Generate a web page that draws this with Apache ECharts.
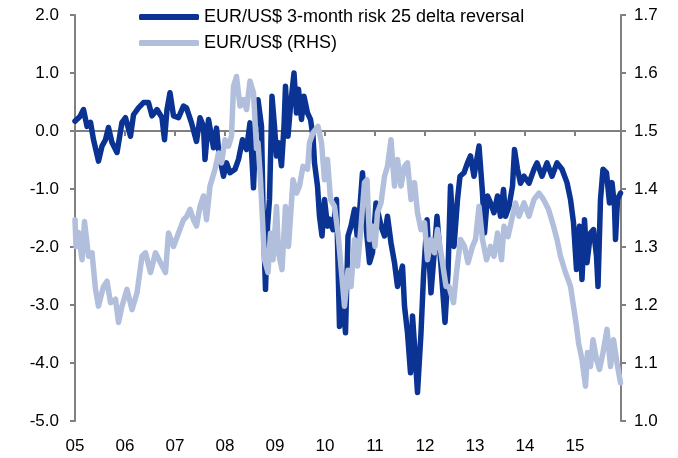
<!DOCTYPE html>
<html>
<head>
<meta charset="utf-8">
<script src="https://cdn.jsdelivr.net/npm/echarts@6/dist/echarts.min.js"></script>
<style>
  html, body { margin: 0; padding: 0; background: #fff; }
  #chart { width: 678px; height: 458px; }
</style>
</head>
<body>
<div id="chart"></div>
<script>
// EUR/US$ 3-month 25 delta risk reversal (LHS)
const rrYears = [
  2005.00, 2005.10, 2005.17, 2005.24, 2005.31, 2005.37, 2005.47, 2005.54, 2005.61, 2005.67,
  2005.74, 2005.84, 2005.94, 2006.01, 2006.11, 2006.17, 2006.27, 2006.37, 2006.47, 2006.54,
  2006.64, 2006.74, 2006.79, 2006.84, 2006.90, 2006.97, 2007.07, 2007.17, 2007.23, 2007.33,
  2007.43, 2007.50, 2007.57, 2007.60, 2007.67, 2007.77, 2007.83, 2007.88, 2007.97, 2008.03,
  2008.10, 2008.20, 2008.27, 2008.35, 2008.43, 2008.50, 2008.57, 2008.63, 2008.66, 2008.73,
  2008.76, 2008.81, 2008.85, 2008.89, 2008.94, 2008.99, 2009.03, 2009.07, 2009.13, 2009.18,
  2009.21, 2009.26, 2009.31, 2009.38, 2009.43, 2009.47, 2009.53, 2009.58, 2009.65, 2009.71,
  2009.76, 2009.79, 2009.85, 2009.89, 2009.94, 2009.99, 2010.05, 2010.09, 2010.16, 2010.23,
  2010.29, 2010.35, 2010.41, 2010.46, 2010.52, 2010.59, 2010.65, 2010.75, 2010.82, 2010.89,
  2010.95, 2011.02, 2011.12, 2011.19, 2011.25, 2011.32, 2011.39, 2011.45, 2011.55, 2011.59,
  2011.65, 2011.71, 2011.75, 2011.80, 2011.85, 2011.92, 2011.97, 2012.04, 2012.12, 2012.19,
  2012.24, 2012.32, 2012.40, 2012.46, 2012.51, 2012.58, 2012.65, 2012.70, 2012.78, 2012.85,
  2012.91, 2012.98, 2013.08, 2013.15, 2013.19, 2013.25, 2013.31, 2013.38, 2013.45, 2013.51,
  2013.57, 2013.61, 2013.68, 2013.75, 2013.79, 2013.85, 2013.91, 2013.98, 2014.08, 2014.18,
  2014.24, 2014.34, 2014.44, 2014.54, 2014.64, 2014.74, 2014.84, 2014.91, 2014.97, 2015.03,
  2015.09, 2015.14, 2015.19, 2015.24, 2015.31, 2015.37, 2015.43, 2015.46, 2015.51, 2015.56,
  2015.63, 2015.69, 2015.74, 2015.79, 2015.81, 2015.85, 2015.91
];
const rrValues = [
  0.17, 0.25, 0.37, 0.08, 0.15, -0.15, -0.52, -0.26, -0.15, 0.06,
  -0.20, -0.37, 0.15, 0.23, -0.09, 0.28, 0.40, 0.49, 0.49, 0.26,
  0.37, 0.23, -0.15, 0.37, 0.66, 0.26, 0.23, 0.43, 0.40, 0.14,
  -0.18, 0.23, 0.08, -0.49, 0.20, -0.29, 0.05, -0.40, -0.78, -0.55,
  -0.72, -0.66, -0.49, -0.15, -0.32, 0.14, -0.98, 0.37, 0.54, 0.08,
  -1.35, -2.73, -1.64, -1.18, 0.60, 0.08, -0.43, -0.20, -0.60, 0.08,
  0.77, -0.09, 0.43, 1.00, 0.31, 0.72, 0.20, 0.60, 0.31, 0.20,
  -0.09, -0.55, -0.95, -1.47, -1.81, -1.18, -1.64, -1.52, -1.70, -1.18,
  -3.37, -2.79, -3.48, -1.81, -1.64, -1.35, -1.87, -0.72, -1.64, -2.27,
  -2.10, -1.24, -1.64, -1.81, -1.47, -1.93, -2.27, -2.68, -2.33, -3.02,
  -3.48, -4.17, -3.19, -3.82, -4.51, -3.48, -2.50, -1.53, -2.79, -2.04,
  -1.47, -2.33, -3.30, -2.44, -0.95, -1.99, -1.18, -0.78, -0.72, -0.55,
  -0.43, -0.78, -0.26, -1.07, -1.76, -1.12, -1.24, -1.41, -1.12, -1.47,
  -1.01, -1.47, -1.30, -0.95, -0.32, -0.66, -0.90, -0.78, -0.90, -0.66,
  -0.55, -0.78, -0.55, -0.78, -0.55, -0.66, -0.89, -1.18, -1.58, -2.39,
  -1.64, -2.56, -1.53, -2.27, -1.76, -1.70, -2.16, -2.68, -1.18, -0.66,
  -0.72, -1.24, -0.89, -1.30, -1.87, -1.18, -1.07
];

// EUR/US$ spot (RHS)
const fxYears = [
  2005.00, 2005.02, 2005.07, 2005.14, 2005.19, 2005.27, 2005.34, 2005.41, 2005.47, 2005.57,
  2005.64, 2005.71, 2005.81, 2005.87, 2005.94, 2006.04, 2006.14, 2006.24, 2006.34, 2006.41,
  2006.51, 2006.61, 2006.71, 2006.81, 2006.84, 2006.87, 2006.97, 2007.07, 2007.17, 2007.23,
  2007.30, 2007.37, 2007.43, 2007.50, 2007.57, 2007.63, 2007.70, 2007.80, 2007.87, 2007.93,
  2008.00, 2008.07, 2008.13, 2008.17, 2008.23, 2008.30, 2008.37, 2008.43, 2008.50, 2008.57,
  2008.63, 2008.66, 2008.71, 2008.79, 2008.86, 2008.91, 2008.96, 2009.03, 2009.07, 2009.14,
  2009.21, 2009.27, 2009.36, 2009.43, 2009.49, 2009.56, 2009.65, 2009.69, 2009.76, 2009.86,
  2009.93, 2009.99, 2010.05, 2010.11, 2010.19, 2010.26, 2010.33, 2010.39, 2010.46, 2010.52,
  2010.59, 2010.65, 2010.72, 2010.79, 2010.84, 2010.89, 2010.95, 2011.00, 2011.05, 2011.12,
  2011.19, 2011.25, 2011.32, 2011.39, 2011.45, 2011.52, 2011.59, 2011.65, 2011.72, 2011.79,
  2011.85, 2011.92, 2011.99, 2012.05, 2012.12, 2012.19, 2012.25, 2012.32, 2012.42, 2012.48,
  2012.57, 2012.63, 2012.71, 2012.79, 2012.86, 2012.95, 2013.01, 2013.08, 2013.15, 2013.23,
  2013.31, 2013.38, 2013.45, 2013.53, 2013.58, 2013.66, 2013.75, 2013.81, 2013.88, 2013.98,
  2014.08, 2014.18, 2014.28, 2014.37, 2014.47, 2014.57, 2014.64, 2014.71, 2014.81, 2014.91,
  2014.97, 2015.03, 2015.07, 2015.14, 2015.21, 2015.25, 2015.31, 2015.36, 2015.43, 2015.49,
  2015.56, 2015.64, 2015.71, 2015.77, 2015.84, 2015.91
];
const fxValues = [
  1.347, 1.301, 1.325, 1.278, 1.344, 1.284, 1.290, 1.227, 1.198, 1.232,
  1.241, 1.204, 1.210, 1.170, 1.198, 1.227, 1.192, 1.221, 1.284, 1.290,
  1.256, 1.290, 1.273, 1.256, 1.290, 1.324, 1.301, 1.324, 1.347, 1.352,
  1.365, 1.347, 1.336, 1.370, 1.388, 1.347, 1.405, 1.434, 1.462, 1.445,
  1.485, 1.474, 1.491, 1.577, 1.594, 1.543, 1.554, 1.537, 1.586, 1.566,
  1.470, 1.480, 1.416, 1.278, 1.256, 1.324, 1.278, 1.370, 1.290, 1.261,
  1.370, 1.301, 1.416, 1.393, 1.405, 1.439, 1.434, 1.480, 1.497, 1.508,
  1.480, 1.416, 1.451, 1.382, 1.370, 1.324, 1.256, 1.198, 1.260, 1.232,
  1.313, 1.267, 1.336, 1.411, 1.416, 1.313, 1.336, 1.301, 1.359, 1.376,
  1.422, 1.439, 1.485, 1.405, 1.451, 1.405, 1.439, 1.445, 1.382, 1.411,
  1.359, 1.330, 1.342, 1.278, 1.313, 1.290, 1.330, 1.290, 1.232, 1.232,
  1.204, 1.256, 1.313, 1.301, 1.273, 1.301, 1.313, 1.370, 1.313, 1.278,
  1.301, 1.284, 1.324, 1.278, 1.336, 1.318, 1.353, 1.376, 1.353, 1.376,
  1.353, 1.382, 1.393, 1.382, 1.365, 1.336, 1.313, 1.284, 1.256, 1.232,
  1.198, 1.163, 1.135, 1.106, 1.060, 1.118, 1.094, 1.140, 1.106, 1.089,
  1.118, 1.158, 1.094, 1.140, 1.100, 1.066
];

const yearTicks = ['05', '06', '07', '08', '09', '10', '11', '12', '13', '14', '15'];

const rrData = rrYears.map((y, i) => [y, rrValues[i]]);
const fxData = fxYears.map((y, i) => [y, fxValues[i]]);

const font = "'Liberation Sans', Arial, sans-serif";
const axisGray = '#808080';

const chart = echarts.init(document.getElementById('chart'));

const yearLabel = v => {
  const r = Math.round(v);
  if (Math.abs(v - r) > 1e-6) return '';
  return yearTicks[r - 2005] || '';
};

chart.setOption({
  animation: false,
  backgroundColor: '#fff',
  grid: { left: 75, right: 57, top: 15, bottom: 37 },
  legend: {
    orient: 'vertical',
    left: 139,
    top: 8,
    padding: 0,
    itemWidth: 60,
    itemHeight: 6,
    itemGap: 8,
    icon: 'roundRect',
    textStyle: { fontFamily: font, fontSize: 18, color: '#000' },
    data: ['EUR/US$ 3-month risk 25 delta reversal', 'EUR/US$ (RHS)']
  },
  xAxis: [
    {
      type: 'value',
      min: 2005,
      max: 2015.92,
      interval: 1,
      axisLine: { show: false, onZero: false },
      axisTick: { show: false },
      splitLine: { show: false },
      axisLabel: {
        formatter: yearLabel,
        fontFamily: font, fontSize: 17, color: '#000', margin: 17
      }
    },
    {
      type: 'value',
      min: 2005,
      max: 2015.92,
      interval: 1,
      position: 'bottom',
      axisLine: { show: true, onZero: true, onZeroAxisIndex: 0, lineStyle: { color: axisGray, width: 2 } },
      axisTick: { show: true, length: 5, lineStyle: { color: axisGray, width: 2 } },
      axisLabel: { show: false },
      splitLine: { show: false }
    }
  ],
  yAxis: [
    {
      type: 'value',
      min: -5,
      max: 2,
      interval: 1,
      axisLine: { show: true, lineStyle: { color: axisGray, width: 2 } },
      axisTick: { show: true, length: 5, lineStyle: { color: axisGray, width: 2 } },
      splitLine: { show: false },
      axisLabel: {
        formatter: v => v.toFixed(1),
        fontFamily: font, fontSize: 17, color: '#000', margin: 16
      }
    },
    {
      type: 'value',
      min: 1.0,
      max: 1.7,
      interval: 0.1,
      position: 'right',
      axisLine: { show: true, lineStyle: { color: axisGray, width: 2 } },
      axisTick: { show: true, length: 5, lineStyle: { color: axisGray, width: 2 } },
      splitLine: { show: false },
      axisLabel: {
        formatter: v => v.toFixed(1),
        fontFamily: font, fontSize: 17, color: '#000', margin: 13
      }
    }
  ],
  series: [
    {
      name: 'EUR/US$ 3-month risk 25 delta reversal',
      type: 'line',
      xAxisIndex: 0,
      yAxisIndex: 0,
      data: rrData,
      showSymbol: false,
      color: '#0B3393',
      lineStyle: { width: 5.5, color: '#0B3393', cap: 'round', join: 'round' }
    },
    {
      name: 'EUR/US$ (RHS)',
      type: 'line',
      xAxisIndex: 0,
      yAxisIndex: 1,
      data: fxData,
      showSymbol: false,
      color: '#B1BFDC',
      lineStyle: { width: 5.5, color: '#B1BFDC', cap: 'round', join: 'round' }
    }
  ]
});
</script>
</body>
</html>
